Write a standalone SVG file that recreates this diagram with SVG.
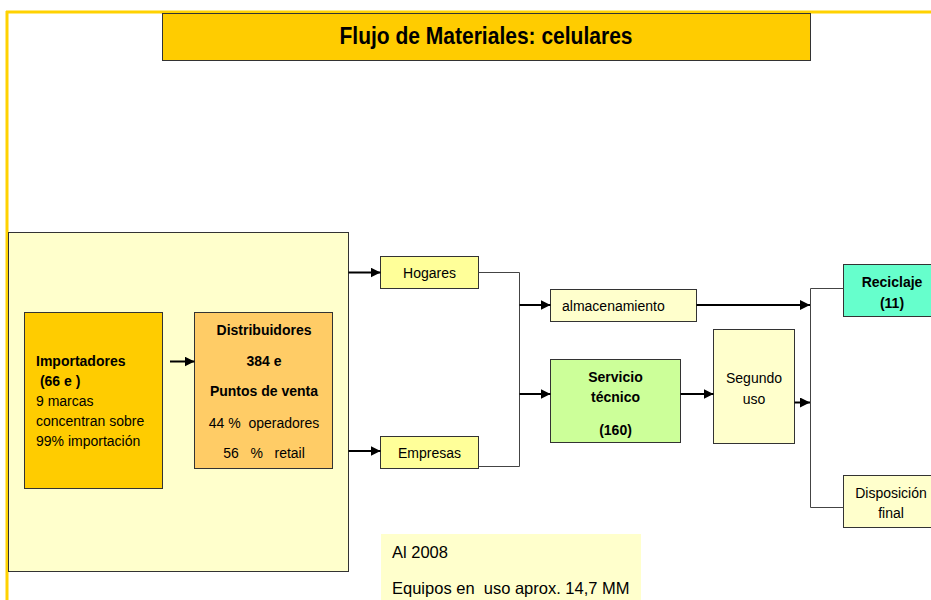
<svg xmlns="http://www.w3.org/2000/svg" width="931" height="600" viewBox="0 0 931 600">
<defs>
<style>
text{font-family:"Liberation Sans",Arial,sans-serif;font-size:14px;fill:#000;white-space:pre}
.b{font-weight:bold}
.c{text-anchor:middle}
.box{stroke:#333;stroke-width:1}
.arr{stroke:#000;stroke-width:2;fill:none;marker-end:url(#ah)}
.ln{stroke:#444;stroke-width:1;fill:none}
</style>
<marker id="ah" markerUnits="userSpaceOnUse" markerWidth="10" markerHeight="10" refX="10" refY="5" orient="auto" viewBox="0 0 10 10">
<path d="M0,0 L10,5 L0,10 z" fill="#000"/>
</marker>
</defs>
<rect width="931" height="600" fill="#fff"/>
<g id="frame">
<line x1="6" y1="12" x2="931" y2="12" stroke="#FFD200" stroke-width="3"/>
<line x1="7" y1="11" x2="7" y2="600" stroke="#FFD200" stroke-width="3"/>
</g>
<g id="title">
<rect class="box" x="162.5" y="13.5" width="648" height="47" fill="#FFCC00"/>
<text class="b c" x="486" y="44" textLength="293" lengthAdjust="spacingAndGlyphs" style="font-size:24px">Flujo de Materiales: celulares</text>
</g>
<g id="mercado">
<rect class="box" x="8.5" y="232.5" width="340" height="339" fill="#FFFFCC"/>
</g>
<g id="importadores">
<rect class="box" x="24.5" y="312.5" width="138" height="176" fill="#FFCC00"/>
<text class="b" x="36" y="366">Importadores</text>
<text class="b" x="36" y="386"> (66 e )</text>
<text x="36" y="406">9 marcas</text>
<text x="36" y="426">concentran sobre</text>
<text x="36" y="446">99% importación</text>
</g>
<g id="distribuidores">
<rect class="box" x="194.5" y="312.5" width="138" height="156" fill="#FFCC66"/>
<text class="b c" x="264" y="335">Distribuidores</text>
<text class="b c" x="264" y="366">384 e</text>
<text class="b c" x="264" y="396">Puntos de venta</text>
<text class="c" x="264" y="428">44 %  operadores</text>
<text class="c" x="264" y="458">56   %   retail</text>
</g>
<g id="hogares">
<rect class="box" x="380.5" y="256.5" width="98" height="32" fill="#FFFF99"/>
<text class="c" x="429.5" y="278">Hogares</text>
</g>
<g id="empresas">
<rect class="box" x="380.5" y="436.5" width="98" height="32" fill="#FFFF99"/>
<text class="c" x="429.5" y="458">Empresas</text>
</g>
<g id="almacenamiento">
<rect class="box" x="550.5" y="289.5" width="146" height="32" fill="#FFFFCC"/>
<text x="562" y="311">almacenamiento</text>
</g>
<g id="servicio">
<rect class="box" x="550.5" y="359.5" width="130" height="83" fill="#CCFF99"/>
<text class="b c" x="615.5" y="382">Servicio</text>
<text class="b c" x="615.5" y="402">técnico</text>
<text class="b c" x="615.5" y="435">(160)</text>
</g>
<g id="segundo">
<rect class="box" x="713.5" y="329.5" width="81" height="114" fill="#FFFFCC"/>
<text class="c" x="754" y="383">Segundo</text>
<text class="c" x="754" y="404">uso</text>
</g>
<g id="reciclaje">
<rect class="box" x="843.5" y="264.5" width="97" height="52" fill="#66FFCC"/>
<text class="b c" x="892" y="287">Reciclaje</text>
<text class="b c" x="892" y="308">(11)</text>
</g>
<g id="disposicion">
<rect class="box" x="843.5" y="475.5" width="97" height="52" fill="#FFFFCC"/>
<text class="c" x="891" y="498">Disposición</text>
<text class="c" x="891" y="518">final</text>
</g>
<g id="nota">
<rect x="381" y="534" width="260" height="70" fill="#FFFFCC"/>
<text x="392" y="558" style="font-size:16.5px">Al 2008</text>
<text x="392" y="594" style="font-size:16.5px">Equipos en  uso aprox. 14,7 MM</text>
</g>
<g id="connectors">
<line class="arr" x1="170" y1="361.5" x2="194.5" y2="361.5"/>
<line class="arr" x1="348.5" y1="272.5" x2="380.5" y2="272.5"/>
<line class="arr" x1="348.5" y1="451" x2="380.5" y2="451"/>
<polyline class="ln" points="478.5,272.5 519.5,272.5 519.5,466.5 478.5,466.5"/>
<line class="arr" x1="519.5" y1="305" x2="550.5" y2="305"/>
<line class="arr" x1="519.5" y1="394" x2="550.5" y2="394"/>
<line class="arr" x1="680.5" y1="394" x2="713.5" y2="394"/>
<line class="arr" x1="696.5" y1="305" x2="810" y2="305"/>
<line class="arr" x1="794.5" y1="402.5" x2="810" y2="402.5"/>
<polyline class="ln" points="843.5,288.5 810.5,288.5 810.5,507.5 843.5,507.5"/>
</g>
</svg>
